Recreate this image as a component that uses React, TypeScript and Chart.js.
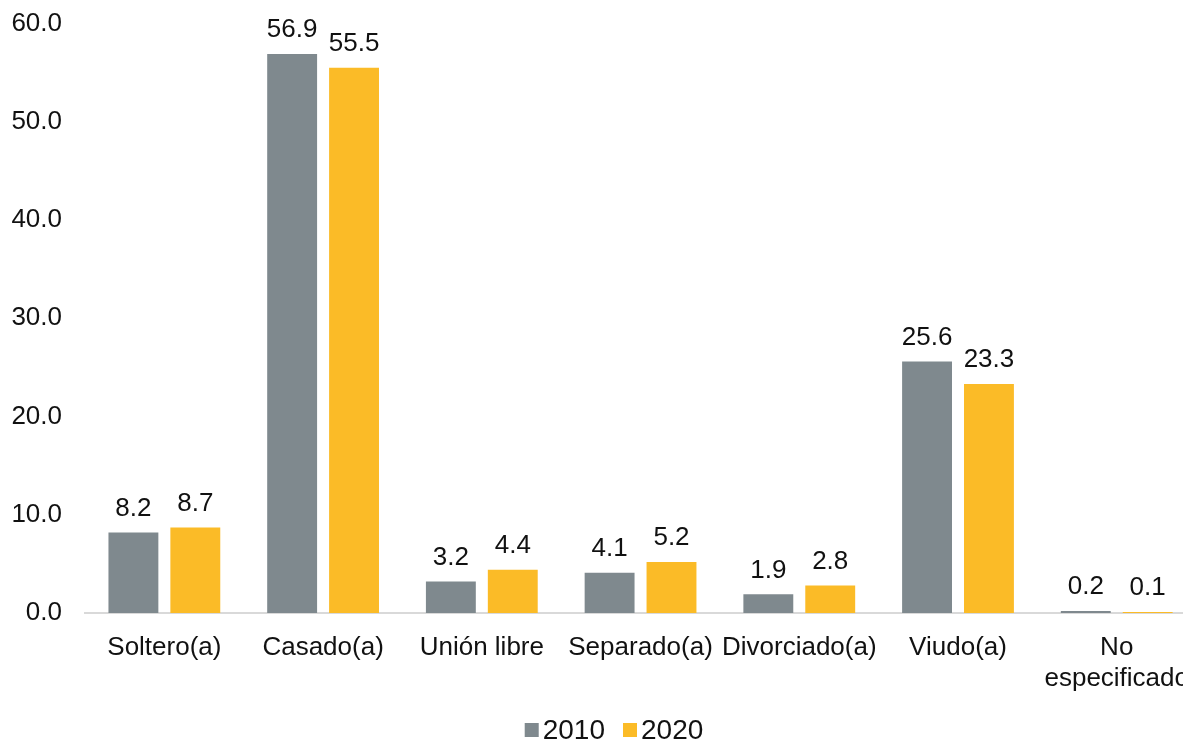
import React, { useEffect, useRef } from "react";
import { Chart, registerables } from "chart.js";

Chart.register(...registerables);

const categories: (string | string[])[] = [
  "Soltero(a)",
  "Casado(a)",
  "Unión libre",
  "Separado(a)",
  "Divorciado(a)",
  "Viudo(a)",
  ["No", "especificado"],
];
const series2010 = [8.2, 56.9, 3.2, 4.1, 1.9, 25.6, 0.2];
const series2020 = [8.7, 55.5, 4.4, 5.2, 2.8, 23.3, 0.1];
const seriesLabels = ["2010", "2020"];
const yTicks = [0, 10, 20, 30, 40, 50, 60];

const FONT = "'Liberation Sans', Arial, sans-serif";
const FS = 26;
const LEGEND_FS = 28;
const GRAY = "#7F898E";
const YELLOW = "#FBBB27";
const SHIFT = 15;

const valueLabels = {
  id: "valueLabels",
  afterDatasetsDraw(chart: any) {
    const ctx = chart.ctx;
    ctx.save();
    ctx.font = `${FS}px ${FONT}`;
    ctx.fillStyle = "#111";
    ctx.textAlign = "center";
    ctx.textBaseline = "bottom";
    chart.data.datasets.forEach((ds: any, i: number) => {
      const meta = chart.getDatasetMeta(i);
      meta.data.forEach((el: any, j: number) => {
        ctx.fillText(Number(ds.data[j]).toFixed(1), el.x, el.y - 11);
      });
    });
    ctx.restore();
  },
};

const customLegend = {
  id: "customLegend",
  afterDraw(chart: any) {
    const ctx = chart.ctx;
    ctx.save();
    ctx.font = `${LEGEND_FS}px ${FONT}`;
    ctx.textBaseline = "middle";
    ctx.textAlign = "left";
    const box = 14;
    const gapBoxText = 4;
    const gapItems = 18;
    const items = chart.data.datasets.map((ds: any) => ({
      label: ds.label,
      color: ds.backgroundColor,
      w: box + gapBoxText + ctx.measureText(ds.label).width,
    }));
    const total = items.reduce((a: number, it: any) => a + it.w, 0) + gapItems * (items.length - 1);
    const cy = 730 + SHIFT;
    let x = 614 - total / 2;
    items.forEach((it: any) => {
      ctx.fillStyle = it.color;
      ctx.fillRect(x, cy - box / 2, box, box);
      ctx.fillStyle = "#111";
      ctx.fillText(it.label, x + box + gapBoxText, cy + 1);
      x += it.w + gapItems;
    });
    ctx.restore();
  },
};

export default function App() {
  const ref = useRef<HTMLCanvasElement>(null);
  useEffect(() => {
    document.documentElement.style.overflow = "hidden";
    document.body.style.overflow = "hidden";
    const chart = new Chart(ref.current!, {
      type: "bar",
      data: {
        labels: categories,
        datasets: [
          { label: seriesLabels[0], data: series2010, backgroundColor: GRAY },
          { label: seriesLabels[1], data: series2020, backgroundColor: YELLOW },
        ],
      },
      plugins: [valueLabels, customLegend],
      options: {
        responsive: false,
        animation: false,
        devicePixelRatio: 1,
        layout: { padding: { top: 14, left: 0, right: 0, bottom: 48 } },
        datasets: { bar: { categoryPercentage: 0.78, barPercentage: 0.806 } },
        plugins: {
          tooltip: { enabled: false },
          legend: { display: false },
        },
        scales: {
          x: {
            grid: { display: false, drawTicks: false },
            border: { display: true, color: "#D9D9D9", width: 2 },
            ticks: {
              font: { family: FONT, size: FS },
              color: "#111",
              maxRotation: 0,
              autoSkip: false,
              padding: 19,
            },
            afterFit: (s: any) => {
              s.height = 97;
            },
          },
          y: {
            min: 0,
            max: 60,
            afterBuildTicks: (s: any) => {
              s.ticks = yTicks.map((v) => ({ value: v }));
            },
            grid: { display: false, drawTicks: false },
            border: { display: false },
            ticks: {
              font: { family: FONT, size: FS },
              color: "#111",
              padding: 23,
              callback: (v: any) => Number(v).toFixed(1),
            },
            afterFit: (s: any) => {
              s.width = 85;
            },
          },
        },
      },
    });
    return () => chart.destroy();
  }, []);
  return (
    <div style={{ position: "fixed", left: 0, top: -SHIFT, width: 1208, height: 773 }}>
      <canvas ref={ref} width={1208} height={773} />
    </div>
  );
}
